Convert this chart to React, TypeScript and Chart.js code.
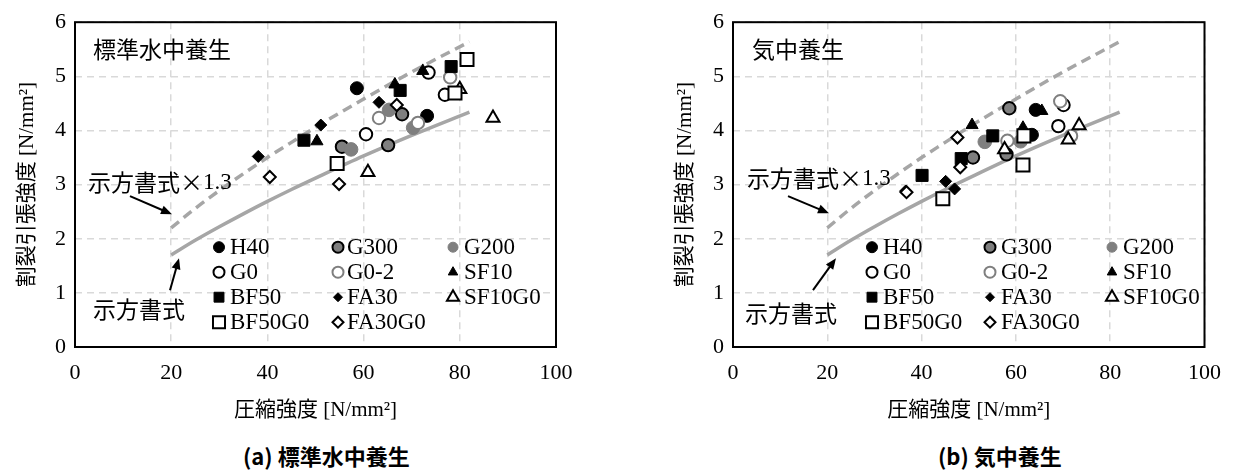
import React, { useEffect, useRef } from "react";
import { Chart, registerables } from "chart.js";
import { drawPoint } from "chart.js/helpers";

Chart.register(...registerables);

type P = [number, number];

// ---- (a) 標準水中養生 ----
const A_H40: P[] = [[58.6, 4.78], [73.2, 4.27]];
const A_G300: P[] = [[55.5, 3.7], [65.1, 3.73], [68.0, 4.3]];
const A_G200: P[] = [[57.4, 3.65], [65.3, 4.38], [70.3, 4.05]];
const A_G0: P[] = [[60.5, 3.93], [73.5, 5.07], [76.9, 4.66]];
const A_G0_2: P[] = [[63.2, 4.23], [71.3, 4.14], [78.0, 4.98]];
const A_SF10: P[] = [[50.3, 3.8], [66.5, 4.85], [72.3, 5.1]];
const A_BF50: P[] = [[47.6, 3.82], [67.6, 4.74], [78.2, 5.18]];
const A_FA30: P[] = [[38.1, 3.52], [51.1, 4.1], [63.2, 4.52]];
const A_SF10G0: P[] = [[60.9, 3.23], [80.0, 4.76], [86.9, 4.23]];
const A_BF50G0: P[] = [[54.5, 3.39], [79.0, 4.69], [81.5, 5.31]];
const A_FA30G0: P[] = [[40.5, 3.14], [54.9, 3.01], [66.9, 4.47]];

// ---- (b) 気中養生 ----
const B_H40: P[] = [[64.2, 4.38], [63.4, 3.92]];
const B_G300: P[] = [[58.6, 4.41], [58.0, 3.56], [50.9, 3.5]];
const B_G200: P[] = [[53.4, 3.79], [61.0, 3.8]];
const B_G0: P[] = [[70.1, 4.47], [69.0, 4.08]];
const B_G0_2: P[] = [[69.4, 4.54], [71.7, 3.9], [58.2, 3.81]];
const B_SF10: P[] = [[50.7, 4.1], [65.5, 4.36], [61.5, 4.05]];
const B_BF50: P[] = [[40.1, 3.17], [48.4, 3.48], [55.1, 3.9]];
const B_FA30: P[] = [[36.6, 2.88], [45.1, 3.06], [47.0, 2.92]];
const B_SF10G0: P[] = [[73.4, 4.09], [71.1, 3.83], [57.6, 3.65]];
const B_BF50G0: P[] = [[44.5, 2.74], [61.5, 3.36], [61.7, 3.9]];
const B_FA30G0: P[] = [[36.8, 2.86], [47.6, 3.87], [48.2, 3.32]];

// 示方書式 curve and ×1.3 curve
const CURVE_X = [20, 25, 30, 35, 40, 45, 50, 60, 70, 82];
const CURVE_Y = [1.7, 1.97, 2.22, 2.46, 2.69, 2.91, 3.12, 3.53, 3.91, 4.34];
const CURVE13_Y = [2.2, 2.56, 2.89, 3.2, 3.5, 3.78, 4.06, 4.58, 5.08, 5.64];

const SERIES_NAMES = ["H40", "G300", "G200", "G0", "G0-2", "SF10", "BF50", "FA30", "SF10G0", "BF50G0", "FA30G0"];

const X_TICKS = [0, 20, 40, 60, 80, 100];
const Y_TICKS = [0, 1, 2, 3, 4, 5, 6];

type Style = { shape: string; r: number; lr: number; fill: string; stroke: string; bw: number };
const GRAY = "#7f7f7f";
const STYLES: Style[] = [
  { shape: "circle", r: 6.5, lr: 5.5, fill: "#000", stroke: "#000", bw: 1 },
  { shape: "circle", r: 6.2, lr: 5.5, fill: GRAY, stroke: "#000", bw: 2 },
  { shape: "circle", r: 6.8, lr: 5, fill: GRAY, stroke: GRAY, bw: 1 },
  { shape: "circle", r: 6.2, lr: 5.5, fill: "#fff", stroke: "#000", bw: 2 },
  { shape: "circle", r: 6.2, lr: 5.5, fill: "#fff", stroke: GRAY, bw: 2 },
  { shape: "triangle", r: 7, lr: 5.5, fill: "#000", stroke: "#000", bw: 1 },
  { shape: "rect", r: 8.5, lr: 7, fill: "#000", stroke: "#000", bw: 1 },
  { shape: "rectRot", r: 6, lr: 4.5, fill: "#000", stroke: "#000", bw: 1 },
  { shape: "triangle", r: 7.5, lr: 7, fill: "#fff", stroke: "#000", bw: 2 },
  { shape: "rect", r: 9.2, lr: 8.5, fill: "#fff", stroke: "#000", bw: 2 },
  { shape: "rectRot", r: 6, lr: 5.5, fill: "#fff", stroke: "#000", bw: 2 },
];

const SERIF = "'Liberation Serif', 'Noto Sans CJK JP', serif";
const CJK = "'Noto Sans CJK JP', sans-serif";

type Ann = {
  title: string;
  titlePos: P;
  f13Pos: P;
  arrow1: [P, P];
  fPos: P;
  arrow2: [P, P];
  legendMx: number[];
  legendTx: number[];
  legendRows: number[];
};

function arrow(ctx: CanvasRenderingContext2D, a: P, b: P) {
  const ang = Math.atan2(b[1] - a[1], b[0] - a[0]);
  const L = 11, W = 4.5;
  ctx.strokeStyle = "#000";
  ctx.fillStyle = "#000";
  ctx.lineWidth = 2;
  ctx.beginPath();
  ctx.moveTo(a[0], a[1]);
  ctx.lineTo(b[0] - Math.cos(ang) * L * 0.8, b[1] - Math.sin(ang) * L * 0.8);
  ctx.stroke();
  ctx.beginPath();
  ctx.moveTo(b[0], b[1]);
  ctx.lineTo(b[0] - Math.cos(ang) * L + Math.sin(ang) * W, b[1] - Math.sin(ang) * L - Math.cos(ang) * W);
  ctx.lineTo(b[0] - Math.cos(ang) * L - Math.sin(ang) * W, b[1] - Math.sin(ang) * L + Math.cos(ang) * W);
  ctx.closePath();
  ctx.fill();
}

function Panel(props: { left: number; width: number; padRight: number; sets: P[][]; ann: Ann }) {
  const ref = useRef<HTMLCanvasElement>(null);
  const H = 430;
  useEffect(() => {
    const { sets, ann } = props;
    const datasets: any[] = sets.map((pts, i) => {
      const s = STYLES[i];
      return {
        label: SERIES_NAMES[i],
        data: pts.map((p) => ({ x: p[0], y: p[1] })),
        pointStyle: s.shape,
        pointRadius: s.r,
        pointBackgroundColor: s.fill,
        pointBorderColor: s.stroke,
        pointBorderWidth: s.bw,
        showLine: false,
        order: 20 - i,
      };
    });
    datasets.push({
      label: "示方書式×1.3",
      data: CURVE_X.map((x, i) => ({ x, y: CURVE13_Y[i] })),
      showLine: true,
      borderColor: "#a6a6a6",
      borderWidth: 3.5,
      borderDash: [10, 6],
      pointRadius: 0,
      cubicInterpolationMode: "monotone",
      order: 50,
    });
    datasets.push({
      label: "示方書式",
      data: CURVE_X.map((x, i) => ({ x, y: CURVE_Y[i] })),
      showLine: true,
      borderColor: "#a6a6a6",
      borderWidth: 3.5,
      pointRadius: 0,
      cubicInterpolationMode: "monotone",
      order: 51,
    });

    const overlay = {
      id: "overlay",
      afterDraw(chart: any) {
        const ctx: CanvasRenderingContext2D = chart.ctx;
        const ca = chart.chartArea;
        ctx.save();
        // frame
        ctx.strokeStyle = "#000";
        ctx.lineWidth = 2;
        ctx.setLineDash([]);
        ctx.strokeRect(ca.left, ca.top, ca.right - ca.left, ca.bottom - ca.top);
        // labels
        ctx.fillStyle = "#000";
        ctx.textBaseline = "middle";
        ctx.textAlign = "left";
        ctx.font = "23px " + CJK;
        ctx.fillText(ann.title, ca.left + ann.titlePos[0], ca.top + ann.titlePos[1]);
        const pre = "示方書式×";
        const x13 = ca.left + ann.f13Pos[0];
        ctx.fillText(pre, x13, ca.top + ann.f13Pos[1]);
        const w = ctx.measureText(pre).width;
        ctx.font = "23px " + SERIF;
        ctx.fillText("1.3", x13 + w, ca.top + ann.f13Pos[1] + 1);
        ctx.font = "23px " + CJK;
        ctx.fillText("示方書式", ca.left + ann.fPos[0], ca.top + ann.fPos[1]);
        const off = (p: P): P => [ca.left + p[0], ca.top + p[1]];
        arrow(ctx, off(ann.arrow1[0]), off(ann.arrow1[1]));
        arrow(ctx, off(ann.arrow2[0]), off(ann.arrow2[1]));
        // legend
        ctx.font = "23px " + SERIF;
        SERIES_NAMES.forEach((name, i) => {
          const col = i % 3;
          const row = Math.floor(i / 3);
          const s = STYLES[i];
          const y = ca.top + ann.legendRows[row];
          ctx.fillStyle = s.fill;
          ctx.strokeStyle = s.stroke;
          ctx.lineWidth = s.bw;
          drawPoint(ctx, { pointStyle: s.shape as any, rotation: 0, radius: s.lr, borderWidth: s.bw }, ca.left + ann.legendMx[col], y);
          ctx.fillStyle = "#000";
          ctx.fillText(name, ca.left + ann.legendTx[col], y + 1);
        });
        ctx.restore();
      },
    };

    const tickFont = { family: SERIF, size: 22 };
    const chart = new Chart(ref.current!, {
      type: "scatter",
      data: { datasets },
      options: {
        animation: false,
        responsive: false,
        devicePixelRatio: 1,
        layout: { padding: { top: 18, right: props.padRight, left: 0, bottom: 0 } },
        plugins: { legend: { display: false }, tooltip: { enabled: false } },
        scales: {
          x: {
            type: "linear",
            min: 0,
            max: 100,
            afterBuildTicks: (s: any) => { s.ticks = X_TICKS.map((v) => ({ value: v })); },
            afterFit: (s: any) => { s.height = 83; },
            ticks: { font: tickFont, color: "#000", padding: 13 },
            grid: { color: "#d9d9d9", lineWidth: 1.5, drawTicks: false },
            border: { display: false, dash: [7, 5] },
            title: { display: true, text: "圧縮強度 [N/mm²]", font: { family: SERIF, size: 21 }, color: "#000", padding: { top: 0, bottom: 7 } },
          },
          y: {
            type: "linear",
            min: 0,
            max: 6,
            afterBuildTicks: (s: any) => { s.ticks = Y_TICKS.map((v) => ({ value: v })); },
            afterFit: (s: any) => { s.width = 75; },
            ticks: { font: tickFont, color: "#000", padding: 9 },
            grid: { color: "#d9d9d9", lineWidth: 1.5, drawTicks: false },
            border: { display: false, dash: [7, 5] },
            title: { display: true, text: "割裂引張強度 [N/mm²]", font: { family: SERIF, size: 21 }, color: "#000", padding: { top: 15, bottom: 0 } },
          },
        },
      },
      plugins: [overlay],
    } as any);
    return () => chart.destroy();
  }, []);
  return (
    <canvas
      ref={ref}
      width={props.width}
      height={H}
      style={{ position: "absolute", left: props.left, top: 0, width: props.width, height: H }}
    />
  );
}

const ANN_A: Ann = {
  title: "標準水中養生",
  titlePos: [18, 27],
  f13Pos: [13, 160],
  arrow1: [[55, 174], [97, 192]],
  fPos: [18, 287],
  arrow2: [[95, 268], [104, 236]],
  legendMx: [144, 263, 378],
  legendTx: [155, 272, 389],
  legendRows: [225, 250, 275, 300],
};

const ANN_B: Ann = {
  title: "気中養生",
  titlePos: [19, 27],
  f13Pos: [14, 156],
  arrow1: [[55, 174], [96, 191]],
  fPos: [12, 291],
  arrow2: [[80, 268], [103, 236]],
  legendMx: [139, 257, 379],
  legendTx: [150, 268, 390],
  legendRows: [225, 250, 275, 300],
};

export default function App() {
  const setsA = [A_H40, A_G300, A_G200, A_G0, A_G0_2, A_SF10, A_BF50, A_FA30, A_SF10G0, A_BF50G0, A_FA30G0];
  const setsB = [B_H40, B_G300, B_G200, B_G0, B_G0_2, B_SF10, B_BF50, B_FA30, B_SF10G0, B_BF50G0, B_FA30G0];
  const cap: React.CSSProperties = {
    position: "absolute",
    top: 442,
    fontFamily: "'Noto Sans CJK JP', sans-serif",
    fontWeight: 700,
    fontSize: 22,
    lineHeight: "26px",
    whiteSpace: "nowrap",
    color: "#000",
  };
  return (
    <div style={{ position: "absolute", left: 0, top: 0, width: 1234, height: 470, background: "#fff", overflow: "hidden" }}>
      <Panel left={0} width={600} padRight={44} sets={setsA} ann={ANN_A} />
      <Panel left={658} width={576} padRight={20} sets={setsB} ann={ANN_B} />
      <div style={{ ...cap, left: 243 }}>(a) 標準水中養生</div>
      <div style={{ ...cap, left: 938 }}>(b) 気中養生</div>
    </div>
  );
}
